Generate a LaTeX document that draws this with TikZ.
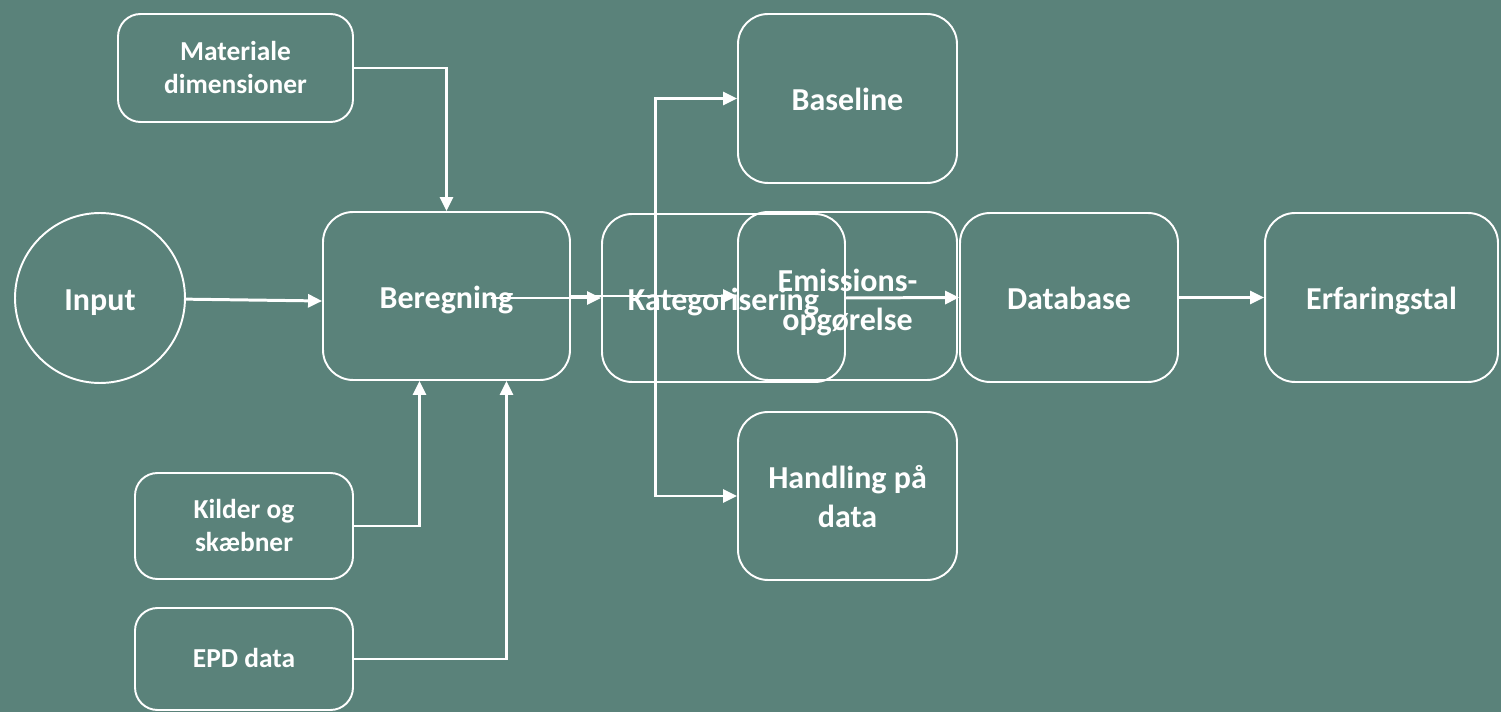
\documentclass[tikz,border=0pt]{standalone}
\usepackage{fontspec}
\setmainfont{Carlito}
\usetikzlibrary{arrows.meta,calc}
\definecolor{bgteal}{RGB}{90,130,122}

\tikzset{
  box/.style={draw=white, line width=1.1pt, rounded corners=0.6cm, align=center, text=white, inner sep=0pt,
    font=\bfseries\fontsize{18.2}{22.2}\selectfont, text height=13.7pt, text depth=0pt},
  twoline/.style={text height=35.5pt, text depth=0pt},
  smallbox/.style={box, rounded corners=0.45cm, font=\bfseries\fontsize{15.6}{18.5}\selectfont,
    text height=10.2pt, text depth=0pt},
  smalltwo/.style={text height=29pt, text depth=0pt},
  link/.style={draw=white, line width=1.7pt, ->},
}

\begin{document}
\begin{tikzpicture}[x=0.02cm, y=-0.02cm, >={Triangle[length=0.28cm,width=0.26cm]}]
	\useasboundingbox (0,0) rectangle (1501,712);
	\fill[bgteal] (0,0) rectangle (1501,712);
	% inputs
	\node[box, circle, rounded corners=0pt, minimum size=3.4cm] (input) at (100,298) {Input};
	\node[smallbox, smalltwo, minimum width=4.7cm, minimum height=2.16cm] (material) at (235.5,68) {Materiale\\dimensioner};
	\node[smallbox, smalltwo, minimum width=4.36cm, minimum height=2.12cm] (kilder) at (244,526) {Kilder og\\skæbner};
	\node[smallbox, minimum width=4.36cm, minimum height=2.04cm] (epd) at (244,659) {EPD data};
	% main chain
	\node[box, minimum width=4.94cm, minimum height=3.36cm] (beregning) at (446.5,296) {Beregning};
	\node[box, minimum width=4.86cm, minimum height=3.36cm] (kategori) at (723.5,298) {Kategorisering};
	\node[box, twoline, text height=39.5pt, minimum width=4.38cm, minimum height=3.36cm] (emission) at (847.5,296) {Emissions-\\opgørelse};
	\node[box, minimum width=4.38cm, minimum height=3.38cm] (baseline) at (847.5,98.5) {Baseline};
	\node[box, twoline, minimum width=4.38cm, minimum height=3.36cm] (handling) at (847.5,496) {Handling på\\data};
	\node[box, minimum width=4.36cm, minimum height=3.38cm] (database) at (1069,297.5) {Database};
	\node[box, minimum width=4.66cm, minimum height=3.38cm] (erfaring) at (1381.5,297.5) {Erfaringstal};
	% connectors
	\draw[link] (input) -- ($(beregning.west)+(0,5)$);
	\draw[link] (material.east) -| (beregning.north);
	\draw[link] (kilder.east) -| ($(beregning.south)+(-27,0)$);
	\draw[link] (epd.east) -| ($(beregning.south)+(60,0)$);
	\draw[link] ($(beregning.east)+(-80,2)$) -- (kategori.west);
	\draw[link] (beregning.east) -- (emission.west);
	\draw[link] (kategori.east) -- (database.west);
	\draw[link] (database) -- (erfaring);
	\coordinate (split) at (655,298);
	\draw[link] (split) |- (baseline.west);
	\draw[link] (split) |- (handling.west);
\end{tikzpicture}
\end{document}
